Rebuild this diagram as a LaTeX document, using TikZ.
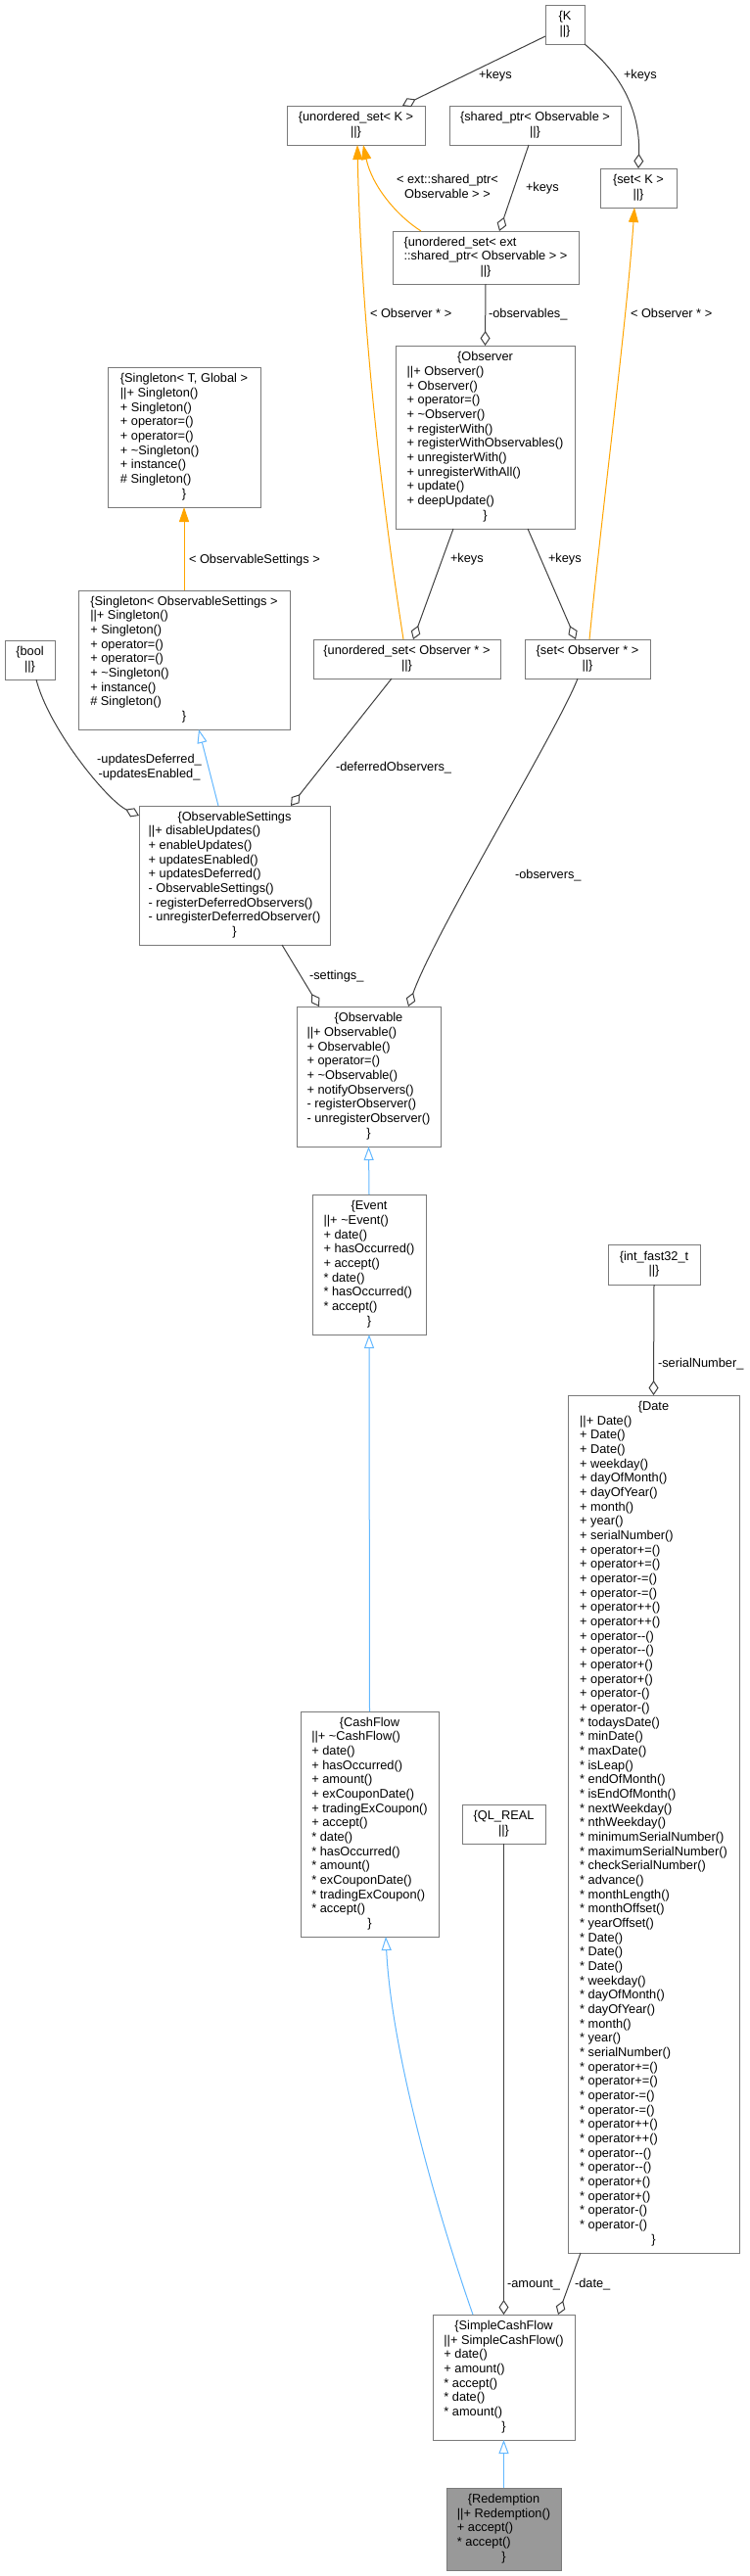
\documentclass[tikz,border=0pt]{standalone}
\usepackage{fontspec}
\setmainfont{Liberation Sans}
\usetikzlibrary{arrows.meta,calc}
\definecolor{cBox}{HTML}{7A7A7A}
\definecolor{cEdge}{HTML}{404040}
\definecolor{cInh}{HTML}{63B8FF}
\definecolor{cTpl}{HTML}{FFA500}
\definecolor{cRoot}{HTML}{999999}
\newcommand\ctrline[1]{\multicolumn{1}{@{}c@{}}{#1}}
\newcommand\clsbox[1]{\begin{tabular}{@{}l@{}}#1\end{tabular}}
\newcommand\dmin{\mbox{-}\mbox{-}}
\newcommand\tild{\textasciitilde}
\newcommand\st{{*}}
\begin{document}
\begin{tikzpicture}[x=0.75pt,y=-0.75pt,
  cls/.style={draw=cBox, fill=white, line width=0.75pt, inner sep=0pt, outer sep=0pt,
    anchor=north west, font=\fontsize{9.6}{11}\selectfont},
  root/.style={cls, fill=cRoot},
  lbl/.style={inner sep=0pt, outer sep=0pt, anchor=base west, font=\fontsize{9.6}{11}\selectfont},
  mlbl/.style={inner sep=0pt, outer sep=0pt, anchor=center, align=center, font=\fontsize{9.6}{11}\selectfont},
  agg/.style={draw=cEdge, line width=0.75pt, -{Diamond[open, length=11.25pt, width=7.5pt]}},
  inhe/.style={draw=cInh, line width=0.75pt, -{Triangle[open, length=10.5pt, width=7.5pt]}},
  tpl/.style={draw=cTpl, line width=0.75pt, -{Triangle[length=11.25pt, width=7.5pt]}}
]
\fill[white] (0,0) rectangle (765,2631);
\useasboundingbox (0,0) rectangle (765,2631);

% ---------- class boxes ----------
\node[cls, minimum width=40*0.75pt, minimum height=40*0.75pt] (K) at (557,5)
  {\clsbox{\ctrline{\{K}\\ \ctrline{||\}}}};
\node[cls, minimum width=141*0.75pt, minimum height=40*0.75pt] (usetK) at (293,108)
  {\clsbox{\ctrline{\{unordered\_set< K >}\\ \ctrline{||\}}}};
\node[cls, minimum width=175*0.75pt, minimum height=40*0.75pt] (sharedptr) at (459,108)
  {\clsbox{\ctrline{\{shared\_ptr< Observable >}\\ \ctrline{||\}}}};
\node[cls, minimum width=78*0.75pt, minimum height=40*0.75pt] (setK) at (613,172)
  {\clsbox{\ctrline{\{set< K >}\\ \ctrline{||\}}}};
\node[cls, minimum width=190*0.75pt, minimum height=54*0.75pt] (usetExt) at (401,236)
  {\clsbox{\{unordered\_set< ext\\ ::shared\_ptr< Observable > >\\ \ctrline{||\}}}};
\node[cls, minimum width=183*0.75pt, minimum height=187*0.75pt] (Observer) at (404,353)
  {\clsbox{\ctrline{\{Observer}\\ ||+ Observer()\\ + Observer()\\ + operator=()\\ + \tild{}Observer()\\
   + registerWith()\\ + registerWithObservables()\\ + unregisterWith()\\ + unregisterWithAll()\\
   + update()\\ + deepUpdate()\\ \ctrline{\}}}};
\node[cls, minimum width=156*0.75pt, minimum height=143*0.75pt] (STG) at (110,375)
  {\clsbox{\ctrline{\{Singleton< T, Global >}\\ ||+ Singleton()\\ + Singleton()\\ + operator=()\\
   + operator=()\\ + \tild{}Singleton()\\ + instance()\\ \# Singleton()\\ \ctrline{\}}}};
\node[cls, minimum width=216*0.75pt, minimum height=142*0.75pt] (SOS) at (80,603)
  {\clsbox{\ctrline{\{Singleton< ObservableSettings >}\\ ||+ Singleton()\\ + Singleton()\\ + operator=()\\
   + operator=()\\ + \tild{}Singleton()\\ + instance()\\ \# Singleton()\\ \ctrline{\}}}};
\node[cls, minimum width=51*0.75pt, minimum height=40*0.75pt] (bool) at (5,654)
  {\clsbox{\ctrline{\{bool}\\ \ctrline{||\}}}};
\node[cls, minimum width=191*0.75pt, minimum height=40*0.75pt] (usetObs) at (320,653)
  {\clsbox{\ctrline{\{unordered\_set< Observer * >}\\ \ctrline{||\}}}};
\node[cls, minimum width=128*0.75pt, minimum height=40*0.75pt] (setObs) at (536,653)
  {\clsbox{\ctrline{\{set< Observer * >}\\ \ctrline{||\}}}};
\node[cls, minimum width=195*0.75pt, minimum height=142*0.75pt] (OS) at (142,823)
  {\clsbox{\ctrline{\{ObservableSettings}\\ ||+ disableUpdates()\\ + enableUpdates()\\ + updatesEnabled()\\
   + updatesDeferred()\\ - ObservableSettings()\\ - registerDeferredObservers()\\
   - unregisterDeferredObserver()\\ \ctrline{\}}}};
\node[cls, minimum width=147*0.75pt, minimum height=143*0.75pt] (Observable) at (303,1028)
  {\clsbox{\ctrline{\{Observable}\\ ||+ Observable()\\ + Observable()\\ + operator=()\\ + \tild{}Observable()\\
   + notifyObservers()\\ - registerObserver()\\ - unregisterObserver()\\ \ctrline{\}}}};
\node[cls, minimum width=116*0.75pt, minimum height=143*0.75pt] (Event) at (319,1220)
  {\clsbox{\ctrline{\{Event}\\ ||+ \tild{}Event()\\ + date()\\ + hasOccurred()\\ + accept()\\
   \st{} date()\\ \st{} hasOccurred()\\ \st{} accept()\\ \ctrline{\}}}};
\node[cls, minimum width=94*0.75pt, minimum height=41*0.75pt] (intf) at (621,1271)
  {\clsbox{\ctrline{\{int\_fast32\_t}\\ \ctrline{||\}}}};
\node[cls, minimum width=175*0.75pt, minimum height=876*0.75pt] (Date) at (580,1425)
  {\clsbox{\ctrline{\{Date}\\ ||+ Date()\\ + Date()\\ + Date()\\ + weekday()\\ + dayOfMonth()\\
   + dayOfYear()\\ + month()\\ + year()\\ + serialNumber()\\ + operator+=()\\ + operator+=()\\
   + operator-=()\\ + operator-=()\\ + operator++()\\ + operator++()\\ + operator\dmin()\\
   + operator\dmin()\\ + operator+()\\ + operator+()\\ + operator-()\\ + operator-()\\
   \st{} todaysDate()\\ \st{} minDate()\\ \st{} maxDate()\\ \st{} isLeap()\\ \st{} endOfMonth()\\
   \st{} isEndOfMonth()\\ \st{} nextWeekday()\\ \st{} nthWeekday()\\ \st{} minimumSerialNumber()\\
   \st{} maximumSerialNumber()\\ \st{} checkSerialNumber()\\ \st{} advance()\\ \st{} monthLength()\\
   \st{} monthOffset()\\ \st{} yearOffset()\\ \st{} Date()\\ \st{} Date()\\ \st{} Date()\\
   \st{} weekday()\\ \st{} dayOfMonth()\\ \st{} dayOfYear()\\ \st{} month()\\ \st{} year()\\
   \st{} serialNumber()\\ \st{} operator+=()\\ \st{} operator+=()\\ \st{} operator-=()\\
   \st{} operator-=()\\ \st{} operator++()\\ \st{} operator++()\\ \st{} operator\dmin()\\
   \st{} operator\dmin()\\ \st{} operator+()\\ \st{} operator+()\\ \st{} operator-()\\
   \st{} operator-()\\ \ctrline{\}}}};
\node[cls, minimum width=141*0.75pt, minimum height=230*0.75pt] (CashFlow) at (307,1748)
  {\clsbox{\ctrline{\{CashFlow}\\ ||+ \tild{}CashFlow()\\ + date()\\ + hasOccurred()\\ + amount()\\
   + exCouponDate()\\ + tradingExCoupon()\\ + accept()\\ \st{} date()\\ \st{} hasOccurred()\\
   \st{} amount()\\ \st{} exCouponDate()\\ \st{} tradingExCoupon()\\ \st{} accept()\\ \ctrline{\}}}};
\node[cls, minimum width=85*0.75pt, minimum height=40*0.75pt] (QLREAL) at (472,1843)
  {\clsbox{\ctrline{\{QL\_REAL}\\ \ctrline{||\}}}};
\node[cls, minimum width=145*0.75pt, minimum height=128*0.75pt] (SCF) at (442,2364)
  {\clsbox{\ctrline{\{SimpleCashFlow}\\ ||+ SimpleCashFlow()\\ + date()\\ + amount()\\
   \st{} accept()\\ \st{} date()\\ \st{} amount()\\ \ctrline{\}}}};
\node[root, minimum width=117*0.75pt, minimum height=84*0.75pt] (Redemption) at (456,2541)
  {\clsbox{\ctrline{\{Redemption}\\ ||+ Redemption()\\ + accept()\\ \st{} accept()\\ \ctrline{\}}}};

% ---------- connectors ----------
\draw[agg] ($(K.south west)+(0,-8)$) -- ($(usetK.north)+(47.5,0)$);
\draw[agg] (K.south east) .. controls (640,80) and (654,120) .. (setK.north);
\draw[agg] ($(sharedptr.south)+(-6.5,0)$) -- ($(usetExt.north)+(14,0)$);
\draw[tpl] ($(usetExt.north)+(-66,0)$) .. controls (405,220) and (380,190) .. ($(usetK.south)+(7.5,0)$);
\draw[tpl] ($(usetObs.north)+(-3.5,0)$) .. controls (385,480) and (368,300) .. ($(usetK.south)+(1.5,0)$);
\draw[tpl] ($(setObs.north)+(2,0)$) .. controls (615,520) and (640,330) .. ($(setK.south)+(-4,0)$);
\draw[agg] (usetExt.south) -- (Observer.north);
\draw[tpl] (SOS.north) -- (STG.south);
\draw[agg] ($(Observer.south)+(-32.5,0)$) -- ($(usetObs.north)+(6.5,0)$);
\draw[agg] ($(Observer.south)+(43.5,0)$) -- ($(setObs.north)+(-12,0)$);
\draw[agg] ($(bool.south)+(6.5,0)$) .. controls (50,745) and (110,818) .. ($(OS.north west)+(0,10)$);
\draw[inhe] ($(OS.north)+(-16.5,0)$) -- ($(SOS.south)+(15,0)$);
\draw[agg] ($(usetObs.south)+(-15.5,0)$) -- ($(OS.north)+(57.5,0)$);
\draw[agg] ($(setObs.south)+(-10,0)$) .. controls (570,745) and (445,950) .. ($(Observable.north)+(40.5,0)$);
\draw[agg] ($(OS.south)+(48.5,0)$) -- ($(Observable.north)+(-50.5,0)$);
\draw[inhe] (Event.north) -- (Observable.south);
\draw[inhe] (CashFlow.north) -- (Event.south);
\draw[agg] (intf.south) -- (Date.north);
\draw[inhe] ($(SCF.north)+(-31.5,0)$) .. controls (450,2270) and (400,2100) .. ($(CashFlow.south)+(16.5,0)$);
\draw[agg] (QLREAL.south) -- (SCF.north);
\draw[agg] ($(Date.south)+(-74.5,0)$) -- ($(SCF.north)+(55.5,0)$);
\draw[inhe] (Redemption.north) -- (SCF.south);

% ---------- connector labels ----------
\node[lbl] (l1) at (489,80.5) {+keys};
\node[lbl] (l2) at (637,80.5) {+keys};
\node[mlbl] (l3) at (457,190.5) {< ext::shared\_ptr<\\Observable > >};
\node[lbl] (l4) at (537,195.5) {+keys};
\node[lbl] (l5) at (378,324.5) {< Observer * >};
\node[lbl] (l6) at (499,324.5) {-observables\_};
\node[lbl] (l7) at (644,324.5) {< Observer * >};
\node[lbl] (l8) at (193,575.5) {< ObservableSettings >};
\node[lbl] (l9) at (460,574.5) {+keys};
\node[lbl] (l10) at (560,574.5) {+keys};
\node[mlbl] (l11) at (152.5,783.5) {-updatesDeferred\_\\-updatesEnabled\_};
\node[lbl] (l12) at (343,787.5) {-deferredObservers\_};
\node[lbl] (l13) at (526,897.5) {-observers\_};
\node[lbl] (l14) at (316,1000.5) {-settings\_};
\node[lbl] (l15) at (672,1396.5) {-serialNumber\_};
\node[lbl] (l16) at (518,2336.5) {-amount\_};
\node[lbl] (l17) at (587,2336.5) {-date\_};
\end{tikzpicture}
\end{document}
